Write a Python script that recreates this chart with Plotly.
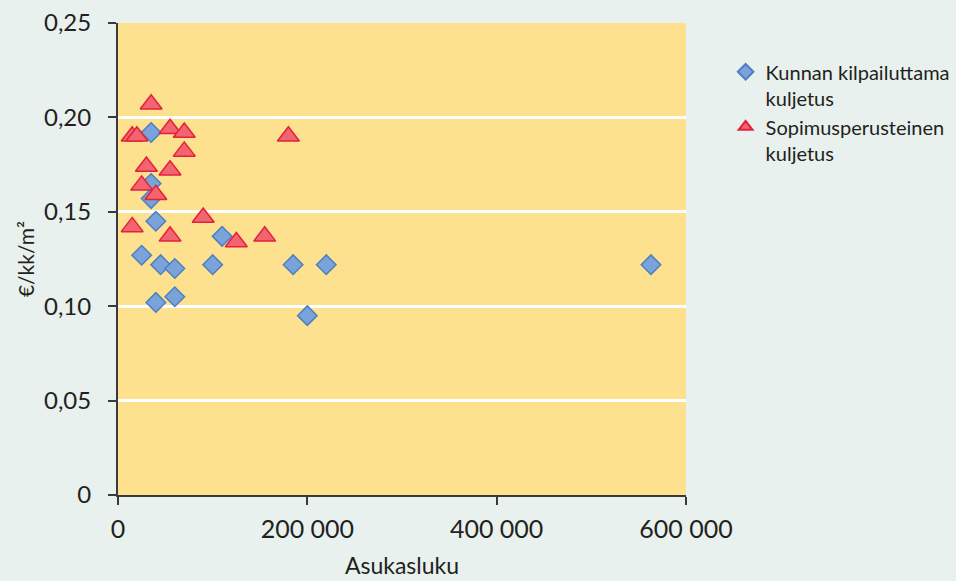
import plotly.graph_objects as go

# Kunnan kilpailuttama kuljetus (blue diamonds)
kunta_x = [35000, 35000, 35000, 40000, 25000, 45000, 60000, 100000, 110000,
           40000, 60000, 185000, 220000, 200000, 563000]
kunta_y = [0.192, 0.165, 0.157, 0.145, 0.127, 0.122, 0.120, 0.122, 0.137,
           0.102, 0.105, 0.122, 0.122, 0.095, 0.122]

# Sopimusperusteinen kuljetus (red triangles)
sopimus_x = [35000, 15000, 20000, 55000, 70000, 70000, 30000, 55000, 25000,
             40000, 180000, 15000, 90000, 55000, 125000, 155000]
sopimus_y = [0.207, 0.190, 0.190, 0.194, 0.192, 0.182, 0.174, 0.172, 0.164,
             0.159, 0.190, 0.142, 0.147, 0.137, 0.134, 0.137]

x_tickvals = [0, 200000, 400000, 600000]
x_ticktext = ["0", "200 000", "400 000", "600 000"]
y_tickvals = [0, 0.05, 0.10, 0.15, 0.20, 0.25]
y_ticktext = ["0", "0,05", "0,10", "0,15", "0,20", "0,25"]

FONT = "Lato, 'Open Sans', sans-serif"
TXT = "#231f20"
PAPER = "#e8f1ee"

fig = go.Figure()
fig.add_trace(go.Scatter(
    x=kunta_x, y=kunta_y, mode="markers",
    name="Kunnan kilpailuttama<br>kuljetus",
    marker=dict(symbol="diamond", size=15, color="#79a3d9",
                line=dict(color="#4d7fc1", width=1.5)),
))
fig.add_trace(go.Scatter(
    x=sopimus_x, y=sopimus_y, mode="markers",
    name="Sopimusperusteinen<br>kuljetus",
    marker=dict(symbol="triangle-up", size=19, color="#f2646f",
                line=dict(color="#e2223c", width=1.5)),
))

fig.update_layout(
    width=956, height=581,
    margin=dict(l=118, r=270, t=23, b=86),
    paper_bgcolor=PAPER,
    plot_bgcolor="#fee18f",
    font=dict(family=FONT, size=18, color=TXT),
    showlegend=True,
    legend=dict(x=0.759, y=0.91, xref="container", yref="container",
                xanchor="left", yanchor="top", valign="top",
                bgcolor="rgba(0,0,0,0)", font=dict(size=20, color=TXT),
                tracegroupgap=9, itemsizing="constant"),
)
fig.update_xaxes(
    range=[0, 600000], tickvals=x_tickvals, ticktext=x_ticktext,
    showgrid=False, zeroline=False, automargin=False,
    showline=True, linecolor="#3a3a3a", linewidth=2,
    ticks="outside", ticklen=8, tickcolor="#3a3a3a", tickwidth=1.5,
    tickfont=dict(size=25, color=TXT), ticklabelstandoff=3,
    title=dict(text="Asukasluku", font=dict(size=23, color=TXT), standoff=16),
)
fig.update_yaxes(
    range=[0, 0.25], tickvals=y_tickvals, ticktext=y_ticktext,
    showgrid=True, gridcolor="#ffffff", gridwidth=3, zeroline=False,
    automargin=False,
    showline=True, linecolor="#3a3a3a", linewidth=2,
    ticks="outside", ticklen=8, tickcolor="#3a3a3a", tickwidth=1.5,
    tickfont=dict(size=24, color=TXT), ticklabelstandoff=12,
    title=dict(text="€/kk/m²", font=dict(size=21, color=TXT), standoff=4),
)

fig.write_html(
    "out.html",
    config={"displayModeBar": False},
    post_script=("document.body.style.margin='0';"
                 "document.body.style.background='" + PAPER + "';"),
)
